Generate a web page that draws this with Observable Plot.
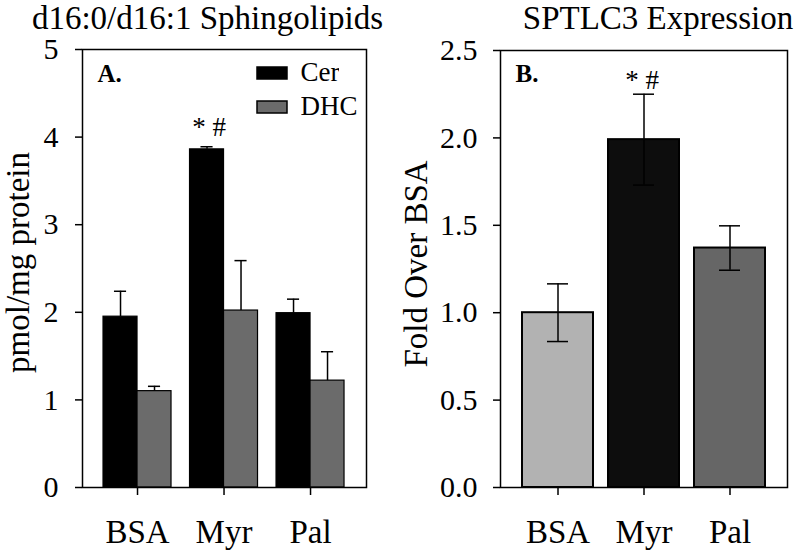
<!DOCTYPE html>
<html>
<head>
<meta charset="utf-8">
<script src="https://cdn.jsdelivr.net/npm/d3@7"></script>
<script src="https://cdn.jsdelivr.net/npm/@observablehq/plot@0.6"></script>
<style>
  html, body { margin: 0; padding: 0; background: #fff; }
  #wrap { position: relative; width: 800px; height: 552px; overflow: hidden; background: #fff; font-family: "Liberation Serif", "Times New Roman", serif; color: #000; }
  .panel { position: absolute; top: 0; width: 400px; height: 552px; }
  .title { position: absolute; top: 0; width: 360px; text-align: center; font-size: 33px; line-height: 37px; white-space: nowrap; }
  #legendA { position: absolute; left: 257px; top: 56px; }
  #legendA svg rect { stroke: #000; stroke-width: 1.5px; }
</style>
</head>
<body>
<div id="wrap">
  <div class="panel" id="panelA" style="left:0px"></div>
  <div class="panel" id="panelB" style="left:400px"></div>
  <div class="title" id="titleA" style="left:27.5px"></div>
  <div class="title" id="titleB" style="left:478px"></div>
  <div id="legendA"></div>
</div>
<script>
// ---- data ----
const groups = ["BSA", "Myr", "Pal"];
const seriesA = ["Cer", "DHC"];
const cerMean = [1.95, 3.86, 1.99];
const cerErr  = [0.29, 0.03, 0.16];
const dhcMean = [1.10, 2.02, 1.22];
const dhcErr  = [0.055, 0.57, 0.33];
const colorsA = ["#000000", "#6b6b6b"];
const ticksA = [0, 1, 2, 3, 4, 5];
const sigA = [["Myr", "Cer", "* #"]];

const sptlcMean = [1.00, 1.99, 1.37];
const sptlcErr  = [0.165, 0.26, 0.127];
const colorsB = ["#b2b2b2", "#0d0d0d", "#666666"];
const ticksB = [0, 0.5, 1.0, 1.5, 2.0, 2.5];
const sigB = [["Myr", "* #"]];

const titleA = "d16:0/d16:1 Sphingolipids";
const titleB = "SPTLC3 Expression";
const yLabelA = "pmol/mg protein";
const yLabelB = "Fold Over BSA";

// ---- layout constants for grouped bars (in category units) ----
const barWidth = 0.393;   // width of one bar within a group
const capHalf = 0.07;     // half width of an error-bar cap

// ---- tables ----
const tableA = groups.flatMap((g, i) => seriesA.map((s, j) => {
  const mean = j === 0 ? cerMean[i] : dhcMean[i];
  const err = j === 0 ? cerErr[i] : dhcErr[i];
  const x1 = i + (j - 1) * barWidth, x2 = x1 + barWidth;
  return {group: g, series: s, mean, err, top: mean + err, x1, x2, xc: (x1 + x2) / 2};
}));
const annA = sigA.map(([g, s, label]) => {
  const d = tableA.find(r => r.group === g && r.series === s);
  return {label, xc: d.xc, top: d.top};
});
const tableB = groups.map((g, i) => ({group: g, mean: sptlcMean[i], err: sptlcErr[i]}));
const annB = sigB.map(([g, label]) => {
  const d = tableB.find(r => r.group === g);
  return {group: g, label, top: d.mean + d.err};
});

const font = "Liberation Serif";
const baseStyle = {fontFamily: font, fontSize: "30px", color: "#000", background: "transparent", overflow: "visible"};

document.getElementById("titleA").textContent = titleA;
document.getElementById("titleB").textContent = titleB;

// ---- Panel A ----
const plotA = Plot.plot({
  width: 400, height: 552,
  marginLeft: 82, marginRight: 34, marginTop: 49, marginBottom: 65,
  style: baseStyle,
  x: {domain: [-0.636, 2.647], axis: null, label: null},
  y: {domain: [0, 5], label: null, axis: null},
  color: {domain: seriesA, range: colorsA},
  marks: [
    Plot.rect(tableA, {x1: "x1", x2: "x2", y1: 0, y2: "mean", fill: "series", stroke: "#000", strokeWidth: 1.2}),
    Plot.ruleX(tableA, {x: "xc", y1: "mean", y2: "top", stroke: "#000", strokeWidth: 1.5}),
    Plot.ruleY(tableA, {y: "top", x1: d => d.xc - capHalf, x2: d => d.xc + capHalf, stroke: "#000", strokeWidth: 1.5}),
    Plot.text(annA, {x: "xc", y: "top", text: "label", lineAnchor: "bottom", dy: -11, dx: 2, fontSize: 27}),
    Plot.frame({stroke: "#000", strokeWidth: 1.5}),
    Plot.axisY({ticks: ticksA, tickFormat: d3.format("d"), tickSize: 7, tickPadding: 17, fontSize: 30, strokeWidth: 1.5, label: null}),
    Plot.axisX({ticks: d3.range(groups.length), tickFormat: i => groups[i], tickSize: 8, tickPadding: 24, fontSize: 33, strokeWidth: 1.5, label: null}),
    Plot.text([yLabelA], {frameAnchor: "left", textAnchor: "middle", rotate: -90, dx: -64, dy: -6, fontSize: 33, lineAnchor: "middle"}),
    Plot.text(["A."], {frameAnchor: "top-left", textAnchor: "start", dx: 15, dy: 15, lineAnchor: "top", fontSize: 25, fontWeight: "bold"})
  ]
});
document.getElementById("panelA").appendChild(plotA);

// ---- Legend A ----
const legendA = Plot.legend({
  color: {type: "ordinal", domain: seriesA, range: colorsA},
  columns: 1, swatchWidth: 30, swatchHeight: 12,
  style: {fontFamily: font, fontSize: "27px", lineHeight: "33px", color: "#000", margin: "0"}
});
document.getElementById("legendA").appendChild(legendA);

// ---- Panel B ----
const plotB = Plot.plot({
  width: 400, height: 552,
  marginLeft: 100, marginRight: 13, marginTop: 50, marginBottom: 65,
  style: baseStyle,
  x: {domain: groups, paddingInner: 0.18, paddingOuter: 0.2585, label: null, axis: null},
  y: {domain: [0, 2.5], label: null, axis: null},
  color: {domain: groups, range: colorsB},
  marks: [
    Plot.barY(tableB, {x: "group", y: "mean", fill: "group", stroke: "#000", strokeWidth: 2}),
    Plot.ruleX(tableB, {x: "group", y1: d => d.mean - d.err, y2: d => d.mean + d.err, stroke: "#000", strokeWidth: 1.5}),
    Plot.tickY(tableB, {x: "group", y: d => d.mean + d.err, insetLeft: 25, insetRight: 25, stroke: "#000", strokeWidth: 1.5}),
    Plot.tickY(tableB, {x: "group", y: d => d.mean - d.err, insetLeft: 25, insetRight: 25, stroke: "#000", strokeWidth: 1.5}),
    Plot.text(annB, {x: "group", y: "top", text: "label", lineAnchor: "bottom", dy: -5, dx: -2, fontSize: 27}),
    Plot.frame({stroke: "#000", strokeWidth: 1.5}),
    Plot.axisY({ticks: ticksB, tickFormat: d3.format(".1f"), tickSize: 7, tickPadding: 16, fontSize: 30, strokeWidth: 1.5, label: null}),
    Plot.axisX({tickSize: 8, tickPadding: 24, fontSize: 33, strokeWidth: 1.5, label: null}),
    Plot.text([yLabelB], {frameAnchor: "left", textAnchor: "middle", rotate: -90, dx: -84, dy: -5, fontSize: 33, lineAnchor: "middle"}),
    Plot.text(["B."], {frameAnchor: "top-left", textAnchor: "start", dx: 15, dy: 14, lineAnchor: "top", fontSize: 25, fontWeight: "bold"})
  ]
});
document.getElementById("panelB").appendChild(plotB);
</script>
</body>
</html>
